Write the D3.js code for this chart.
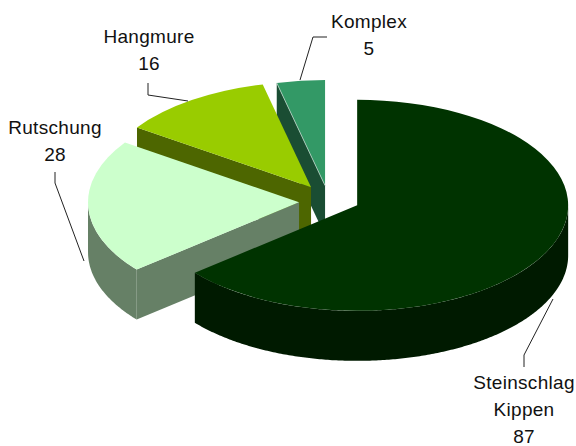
<!doctype html>
<html lang="de">
<head>
<meta charset="UTF-8">
<title>Pie</title>
<script src="https://cdnjs.cloudflare.com/ajax/libs/d3/7.8.5/d3.min.js"></script>
<style>
    html, body { margin: 0; padding: 0; background: #fff; }
    svg { display: block; }
    text { font-family: "Liberation Sans", Arial, sans-serif; font-size: 19px; letter-spacing: 0.3px; fill: #111; text-anchor: middle; }
</style>
</head>
<body>
<svg id="chart" width="576" height="446"></svg>
<script>
var categories = [["Steinschlag", "Kippen"], ["Rutschung"], ["Hangmure"], ["Komplex"]];
var values = [87, 28, 16, 5];
var topColors = ["#003300", "#ccffcc", "#99cc00", "#339966"];
var sideColors = ["#001a00", "#668066", "#4d6600", "#1a4d33"];

// layout of the tilted pie
var cx = 330, cy = 199, radius = 211, tilt = 0.5, depth = 50, explode = 30;
// small corrections to the exploded slice positions
var nudge = [[0, 0], [-1, 2.5], [-2, 0.5], [-1.5, 1.5]];

// label anchors and leader lines, same order as categories
var labelPos = [[524, 389], [55, 134], [149, 43], [369, 28]];
var leaders = [
    [[524, 367], [524, 355], [553, 299]],
    [[55, 172], [55, 183], [84, 261]],
    [[148, 83], [148, 95], [188, 101]],
    [[327, 37], [313, 37], [300, 80]]
];

var svg = d3.select("#chart");
var slices = d3.pie().sort(null)(values);
var arc = d3.arc().innerRadius(0).outerRadius(radius);

function offset(d) {
    var mid = (d.startAngle + d.endAngle) / 2;
    return [cx + explode * Math.sin(mid) + nudge[d.index][0],
            cy - explode * tilt * Math.cos(mid) + nudge[d.index][1]];
}
function px(a) { return radius * Math.sin(a); }
function py(a) { return -radius * tilt * Math.cos(a); }

var area = d3.area().x(function (a) { return px(a); })
    .y0(function (a) { return py(a); })
    .y1(function (a) { return py(a) + depth; });

// draw back to front
slices.slice().reverse().forEach(function (d) {
    var c = offset(d);
    var g = svg.append("g").attr("transform", "translate(" + c[0] + "," + c[1] + ")");
    var a0 = d.startAngle;

    // cut face at the start angle
    g.append("path")
        .attr("fill", sideColors[d.index])
        .attr("d", d3.line()([[0, 0], [px(a0), py(a0)], [px(a0), py(a0) + depth], [0, depth]]));

    // outer wall, only the part facing the viewer
    var from = Math.max(d.startAngle, Math.PI / 2), to = Math.min(d.endAngle, Math.PI * 1.5);
    if (to > from) {
        g.append("path")
            .attr("fill", sideColors[d.index])
            .attr("d", area(d3.range(from, to, 0.01).concat([to])));
    }

    // top face
    g.append("path")
        .attr("transform", "scale(1," + tilt + ")")
        .attr("fill", topColors[d.index])
        .attr("d", arc(d));

    // the thin slice shows a light edge along its cut
    if (d.index == 3) {
        g.append("path").attr("fill", "none").attr("stroke", "#b8d0c4").attr("stroke-width", 0.8)
            .attr("d", d3.line()([[0, 0], [px(a0), py(a0)]]));
    }
});

leaders.forEach(function (l) {
    svg.append("path").attr("fill", "none").attr("stroke", "#222").attr("stroke-width", 1)
        .attr("d", d3.line()(l));
});

slices.forEach(function (d) {
    var lines = categories[d.index].concat([String(d.value)]);
    var pos = labelPos[d.index];
    lines.forEach(function (t, i) {
        svg.append("text").attr("x", pos[0]).attr("y", pos[1] + i * 27).text(t);
    });
});
</script>
</body>
</html>
